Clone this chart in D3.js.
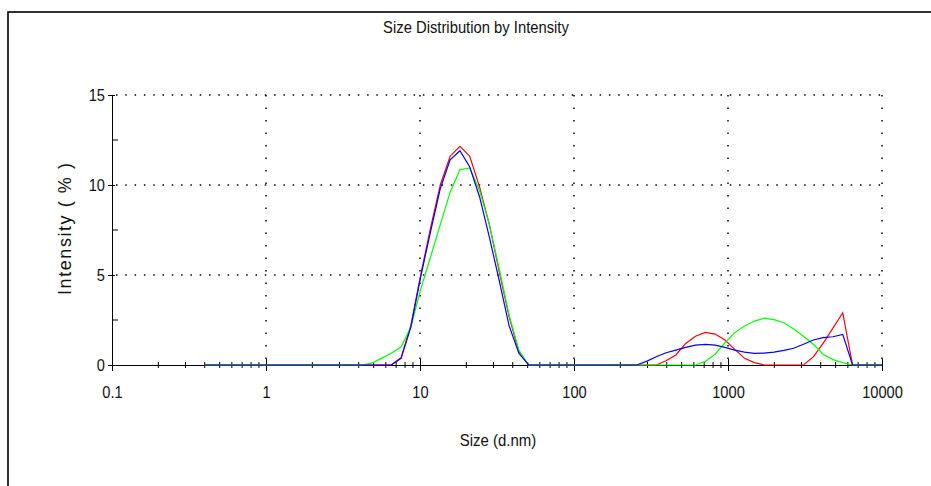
<!DOCTYPE html>
<html>
<head>
<meta charset="utf-8">
<script src="https://cdn.jsdelivr.net/npm/d3@7"></script>
<style>
  body { margin: 0; background: #fff; }
  text { font-family: "Liberation Sans", Arial, sans-serif; fill: #111; }
</style>
</head>
<body>
<svg id="chart"></svg>
<script>
// Malvern size bins (d.nm)
const sizes = [0.4, 0.4632, 0.5365, 0.6213, 0.7195, 0.8332, 0.9649,
  1.117, 1.294, 1.499, 1.736, 2.01, 2.328, 2.696, 3.122, 3.615, 4.187, 4.849, 5.615, 6.503, 7.531, 8.721,
  10.1, 11.7, 13.54, 15.69, 18.17, 21.04, 24.36, 28.21, 32.67, 37.84, 43.82, 50.75, 58.77, 68.06, 78.82, 91.28,
  105.7, 122.4, 141.8, 164.2, 190.1, 220.2, 255, 295.3, 342, 396.1, 458.7, 531.2, 615.1, 712.4, 825, 955.4,
  1106, 1281, 1484, 1718, 1990, 2305, 2669, 3091, 3580, 4145, 4801, 5560, 6439, 7456, 8635, 10000];

// intensity (%) per bin
const redRun = [0, 0, 0, 0, 0, 0, 0,
  0, 0, 0, 0, 0, 0, 0, 0, 0, 0, 0, 0, 0, 0.4, 2.2,
  5.0, 7.6, 10.0, 11.6, 12.15, 11.6, 9.9, 7.8, 5.2, 2.7, 0.75, 0, 0, 0, 0, 0,
  0, 0, 0, 0, 0, 0, 0, 0, 0, 0.24, 0.56, 1.2, 1.6, 1.81, 1.72, 1.39,
  0.87, 0.37, 0.13, 0, 0, 0, 0, 0, 0.45, 1.2, 2.05, 2.9, 0, 0, 0, 0];

const greenRun = [0, 0, 0, 0, 0, 0, 0,
  0, 0, 0, 0, 0, 0, 0, 0, 0, 0, 0.1, 0.37, 0.65, 1.0, 2.1,
  4.2, 6.0, 7.8, 9.6, 10.85, 10.95, 9.7, 7.8, 5.35, 2.8, 0.83, 0, 0, 0, 0, 0,
  0, 0, 0, 0, 0, 0, 0, 0, 0, 0, 0, 0, 0, 0.2, 0.6, 1.24,
  1.8, 2.17, 2.44, 2.6, 2.52, 2.35, 2.0, 1.6, 1.15, 0.6, 0.3, 0.13, 0, 0, 0, 0];

const blueRun = [0, 0, 0, 0, 0, 0, 0,
  0, 0, 0, 0, 0, 0, 0, 0, 0, 0, 0, 0, 0, 0.37, 2.1,
  4.9, 7.4, 9.8, 11.4, 11.9, 11.0, 9.35, 7.1, 4.7, 2.2, 0.65, 0, 0, 0, 0, 0,
  0, 0, 0, 0, 0, 0, 0, 0.2, 0.46, 0.68, 0.83, 0.98, 1.1, 1.15, 1.1, 0.98,
  0.83, 0.72, 0.65, 0.66, 0.72, 0.81, 0.93, 1.15, 1.39, 1.52, 1.57, 1.7, 0, 0, 0, 0];

const xGrid = [1, 10, 100, 1000, 10000];
const xTickLabels = ["0.1", "1", "10", "100", "1000", "10000"];
const yMajor = [0, 5, 10, 15];
const yMinor = [2.5, 7.5, 12.5];

const width = 931, height = 486;
const svg = d3.select("#chart").attr("width", width).attr("height", height);

const x = d3.scaleLog().domain([0.1, 10000]).range([112, 882]);
const y = d3.scaleLinear().domain([0, 15]).range([365, 95]);

// squeeze text horizontally, the original uses a narrow face
function narrow(sel, k) {
  sel.each(function() {
    const len = this.getComputedTextLength();
    d3.select(this).attr("textLength", len * k).attr("lengthAdjust", "spacingAndGlyphs");
  });
}

// outer frame (right/bottom edges fall outside the window)
svg.append("rect")
  .attr("x", 8).attr("y", 12)
  .attr("width", 940).attr("height", 490)
  .attr("fill", "none").attr("stroke", "#000").attr("stroke-width", 1.6);

// title
svg.append("text")
  .attr("x", 476).attr("y", 33)
  .attr("text-anchor", "middle")
  .style("font-size", "17px")
  .text("Size Distribution by Intensity")
  .call(narrow, 0.87);

/* DOTTED GRID */
svg.append("g").selectAll("line")
  .data(yMajor.filter(d => d > 0)).enter()
  .append("line")
    .attr("x1", x(0.1) + 4).attr("x2", x(10000))
    .attr("y1", d => y(d)).attr("y2", d => y(d))
    .attr("stroke", "#000").attr("stroke-width", 1.5)
    .attr("stroke-dasharray", "1.5,7.8");

svg.append("g").selectAll("line")
  .data(xGrid).enter()
  .append("line")
    .attr("x1", d => x(d)).attr("x2", d => x(d))
    .attr("y1", y(15)).attr("y2", y(0))
    .attr("stroke", "#000").attr("stroke-width", 1.5)
    .attr("stroke-dasharray", "1.5,11");

/* AXES */
const minorX = x.ticks().filter(d => Math.abs(Math.log10(d) - Math.round(Math.log10(d))) > 1e-6);
const majorX = x.ticks().filter(d => Math.abs(Math.log10(d) - Math.round(Math.log10(d))) < 1e-6);

const xAxis = svg.append("g")
  .attr("transform", `translate(0,${y(0)})`)
  .call(d3.axisBottom(x).tickValues(majorX).tickSize(0).tickPadding(21)
    .tickFormat((d, i) => xTickLabels[i]));
xAxis.select(".domain").attr("stroke", "#000").attr("stroke-width", 1);
xAxis.selectAll(".tick text").style("font-size", "17px").style("fill", "#111").call(narrow, 0.86);
xAxis.selectAll(".tick line").attr("y1", -6).attr("y2", 6).attr("stroke", "#000");

svg.append("g").selectAll("line")
  .data(minorX).enter()
  .append("line")
    .attr("x1", d => x(d)).attr("x2", d => x(d))
    .attr("y1", y(0) - 3).attr("y2", y(0) + 3)
    .attr("stroke", "#000");

const yAxis = svg.append("g")
  .attr("transform", `translate(${x(0.1)},0)`)
  .call(d3.axisLeft(y).tickValues(yMajor).tickSize(0).tickPadding(7));
yAxis.select(".domain").attr("stroke", "#000").attr("stroke-width", 1);
yAxis.selectAll(".tick text").style("font-size", "17px").style("fill", "#111").call(narrow, 0.86);
yAxis.selectAll(".tick line").attr("x1", -4).attr("x2", 3).attr("stroke", "#000");

svg.append("g").selectAll("line")
  .data(yMinor).enter()
  .append("line")
    .attr("x1", x(0.1)).attr("x2", x(0.1) + 6)
    .attr("y1", d => y(d)).attr("y2", d => y(d))
    .attr("stroke", "#000");

// axis titles
svg.append("text")
  .attr("x", 498).attr("y", 446)
  .attr("text-anchor", "middle")
  .style("font-size", "17px")
  .text("Size (d.nm)")
  .call(narrow, 0.88);

svg.append("text")
  .attr("transform", "translate(71,229) rotate(-90)")
  .attr("text-anchor", "middle")
  .attr("textLength", 132).attr("lengthAdjust", "spacing")
  .style("font-size", "18px")
  .text("Intensity ( % )");

/* SERIES */
const line = d3.line()
  .x((d, i) => x(sizes[i]))
  .y(d => y(d));

const series = [
  {values: redRun, color: "#ff0000"},
  {values: greenRun, color: "#00ff00"},
  {values: blueRun, color: "#0000ff"}
];

svg.selectAll(".run")
  .data(series).enter()
  .append("path")
    .attr("class", "run")
    .attr("fill", "none")
    .attr("stroke", d => d.color)
    .attr("stroke-width", 1.2)
    .attr("d", d => line(d.values));
</script>
</body>
</html>
